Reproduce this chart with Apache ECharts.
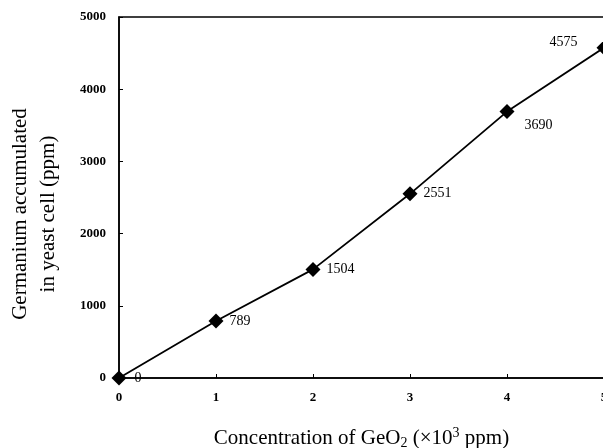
<!DOCTYPE html>
<html>
<head>
<meta charset="utf-8">
<script src="https://cdn.jsdelivr.net/npm/echarts@6/dist/echarts.min.js"></script>
<style>
html, body { margin: 0; padding: 0; background: #fff; }
#main { width: 603px; height: 448px; }
</style>
</head>
<body>
<div id="main"></div>
<script>
// data
var conc = [0, 1, 2, 3, 4, 5];           // GeO2, x10^3 ppm
var germanium = [0, 789, 1504, 2551, 3690, 4575]; // ppm in yeast cell
var xTicks = [0, 1, 2, 3, 4, 5];
var yTicks = [0, 1000, 2000, 3000, 4000, 5000];

var serif = '"Liberation Serif", "Times New Roman", serif';

// label placement per point
var labelPos = [
    { position: 'right', distance: 6, offset: [2, 0] },
    { position: 'right', distance: 6 },
    { position: 'right', distance: 6 },
    { position: 'right', distance: 6 },
    { position: 'right', distance: 6, offset: [4, 14] },
    { position: 'left', distance: 6, offset: [-13, -5] }
];

var points = [];
for (var i = 0; i < conc.length; i++) {
    points.push({
        value: [conc[i], germanium[i]],
        label: labelPos[i]
    });
}

var myChart = echarts.init(document.getElementById('main'));
var option = {
    animation: false,
    backgroundColor: '#fff',
    grid: {
        left: 119,
        right: -1,
        top: 17,
        bottom: 70,
        outerBoundsMode: 'none',
        show: true,
        borderColor: '#000',
        borderWidth: 1.5
    },
    xAxis: {
        type: 'value',
        min: xTicks[0],
        max: xTicks[xTicks.length - 1],
        interval: 1,
        splitLine: { show: false },
        axisLine: { lineStyle: { color: '#000', width: 1.5 } },
        axisTick: { inside: true, length: 4, lineStyle: { color: '#000' } },
        axisLabel: {
            color: '#000', fontFamily: serif, fontWeight: 'bold', fontSize: 13, margin: 13
        },
        name: 'Concentration of GeO{sub|2} (\u00d710{sup|3} ppm)',
        nameLocation: 'middle',
        nameGap: 48,
        nameTextStyle: {
            color: '#000', fontFamily: serif, fontSize: 21,
            rich: {
                sub: { fontFamily: serif, fontSize: 14, color: '#000', verticalAlign: 'bottom', padding: [10, 0, 0, 0] },
                sup: { fontFamily: serif, fontSize: 14, color: '#000', verticalAlign: 'top', padding: [0, 0, 10, 0] }
            }
        }
    },
    yAxis: {
        type: 'value',
        min: yTicks[0],
        max: yTicks[yTicks.length - 1],
        interval: 1000,
        splitLine: { show: false },
        axisLine: { show: true, lineStyle: { color: '#000', width: 1.5 } },
        axisTick: { show: true, inside: true, length: 4, lineStyle: { color: '#000' } },
        axisLabel: {
            color: '#000', fontFamily: serif, fontWeight: 'bold', fontSize: 13, margin: 13,
            formatter: function (v) { return String(v); }
        }
    },
    graphic: [
        {
            type: 'text',
            x: 34,
            y: 214,
            rotation: Math.PI / 2,
            style: {
                text: 'Germanium accumulated\nin yeast cell (ppm)',
                fill: '#000',
                font: '21px ' + serif,
                lineHeight: 28,
                textAlign: 'center',
                textVerticalAlign: 'middle'
            }
        }
    ],
    series: [
        {
            type: 'line',
            data: points,
            symbol: 'path://M0,-1L1,0L0,1L-1,0Z',
            symbolSize: 15,
            itemStyle: { color: '#000' },
            lineStyle: { color: '#000', width: 1.8 },
            label: {
                show: true,
                formatter: function (p) { return p.value[1]; },
                color: '#000',
                fontFamily: serif,
                fontSize: 14
            }
        }
    ]
};
myChart.setOption(option);
</script>
</body>
</html>
